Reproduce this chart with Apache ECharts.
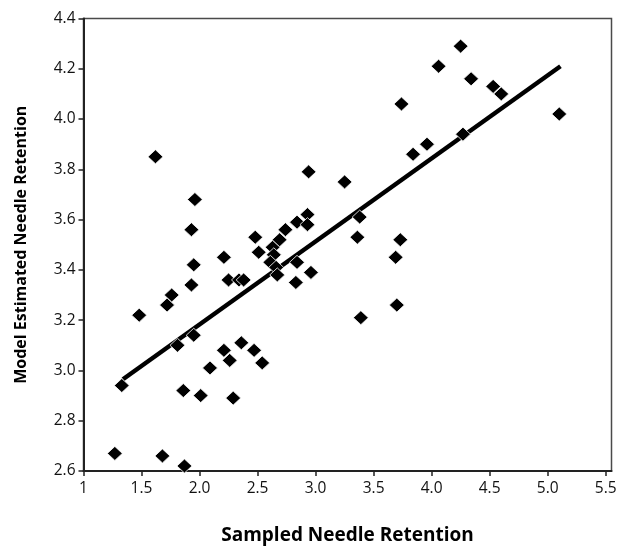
<!DOCTYPE html>
<html>
<head>
<meta charset="utf-8">
<script src="https://cdn.jsdelivr.net/npm/echarts@6/dist/echarts.min.js"></script>
<style>
html,body{margin:0;padding:0;background:#fff;}
#chart{width:622px;height:550px;}
</style>
</head>
<body>
<div id="chart"></div>
<script>
// Sampled (x) and model-estimated (y) needle retention
var sampled = [1.62,1.96,1.93,1.95,1.93,1.76,1.72,1.48,1.95,1.81,1.33,1.86,2.01,2.29,2.09,2.21,2.26,2.36,2.47,2.54,
  1.27,1.68,1.87,2.21,2.25,2.34,2.38,2.48,2.51,2.63,2.64,2.61,2.66,2.67,2.69,2.74,2.84,2.84,2.83,2.93,
  2.93,2.94,2.96,3.25,3.38,3.36,3.39,3.69,3.73,3.70,3.74,3.84,3.96,4.06,4.25,4.34,4.27,4.53,4.60,5.10];
var estimated = [3.85,3.68,3.56,3.42,3.34,3.30,3.26,3.22,3.14,3.10,2.94,2.92,2.90,2.89,3.01,3.08,3.04,3.11,3.08,3.03,
  2.67,2.66,2.62,3.45,3.36,3.36,3.36,3.53,3.47,3.49,3.46,3.43,3.41,3.38,3.52,3.56,3.59,3.43,3.35,3.62,
  3.58,3.79,3.39,3.75,3.61,3.53,3.21,3.45,3.52,3.26,4.06,3.86,3.90,4.21,4.29,4.16,3.94,4.13,4.10,4.02];
// Trend line end points
var trendX = [1.34, 5.11];
var trendY = [2.965, 4.21];
// Tick labels
var xTicks = [1, 1.5, 2, 2.5, 3, 3.5, 4, 4.5, 5, 5.5];
var xTickLabels = ['1','1.5','2.0','2.5','3.0','3.5','4.0','4.5','5.0','5.5'];
var yTicks = [2.6, 2.8, 3.0, 3.2, 3.4, 3.6, 3.8, 4.0, 4.2, 4.4];
var yTickLabels = ['2.6','2.8','3.0','3.2','3.4','3.6','3.8','4.0','4.2','4.4'];

function lookup(ticks, labels, v){
  for (var i=0;i<ticks.length;i++){ if (Math.abs(ticks[i]-v)<1e-6) return labels[i]; }
  return '';
}

var scatterData = sampled.map(function(x,i){ return [x, estimated[i]]; });
var trendData = trendX.map(function(x,i){ return [x, trendY[i]]; });

var font = "'Open Sans', 'Noto Sans', sans-serif";
var chart = echarts.init(document.getElementById('chart'), null, {renderer:'canvas'});
chart.setOption({
  animation:false,
  backgroundColor:'#fff',
  grid:{left:83.5, right:10.5, top:18.5, bottom:78.5, show:true, borderColor:'#4a4a4a', borderWidth:1.5, containLabel:false},
  xAxis:{
    type:'value', min:1, max:5.55, interval:0.5,
    name:'Sampled Needle Retention', nameLocation:'middle', nameGap:55,
    nameTextStyle:{fontFamily:font, fontWeight:'bold', fontSize:19, color:'#000'},
    axisLine:{show:true, onZero:false, lineStyle:{color:'#222', width:2}},
    axisTick:{show:true, inside:false, length:5, lineStyle:{color:'#222', width:1.5}},
    axisLabel:{show:true, showMaxLabel:false, margin:10, fontFamily:font, fontSize:15.5, color:'#111',
      formatter:function(v){ return lookup(xTicks, xTickLabels, v); }},
    splitLine:{show:false}
  },
  yAxis:{
    type:'value', min:2.6, max:4.4, interval:0.2,
    name:'Model Estimated Needle Retention', nameLocation:'middle', nameGap:54, nameRotate:90,
    nameTextStyle:{fontFamily:font, fontWeight:'bold', fontSize:16, color:'#000'},
    axisLine:{show:true, onZero:false, lineStyle:{color:'#222', width:2}},
    axisTick:{show:true, inside:false, length:5, lineStyle:{color:'#222', width:1.5}},
    axisLabel:{show:true, margin:8, fontFamily:font, fontSize:15.5, color:'#111',
      formatter:function(v){ return lookup(yTicks, yTickLabels, v); }},
    splitLine:{show:false}
  },
  series:[
    {
      type:'line', data:trendData, showSymbol:false, symbol:'none', silent:true,
      lineStyle:{color:'#000', width:4.5}, z:1
    },
    {
      type:'scatter', data:scatterData, symbol:'diamond', symbolSize:[15,14],
      itemStyle:{color:'#000', borderColor:'#fff', borderWidth:0.8, opacity:1}, z:2
    }
  ]
});
</script>
</body>
</html>
